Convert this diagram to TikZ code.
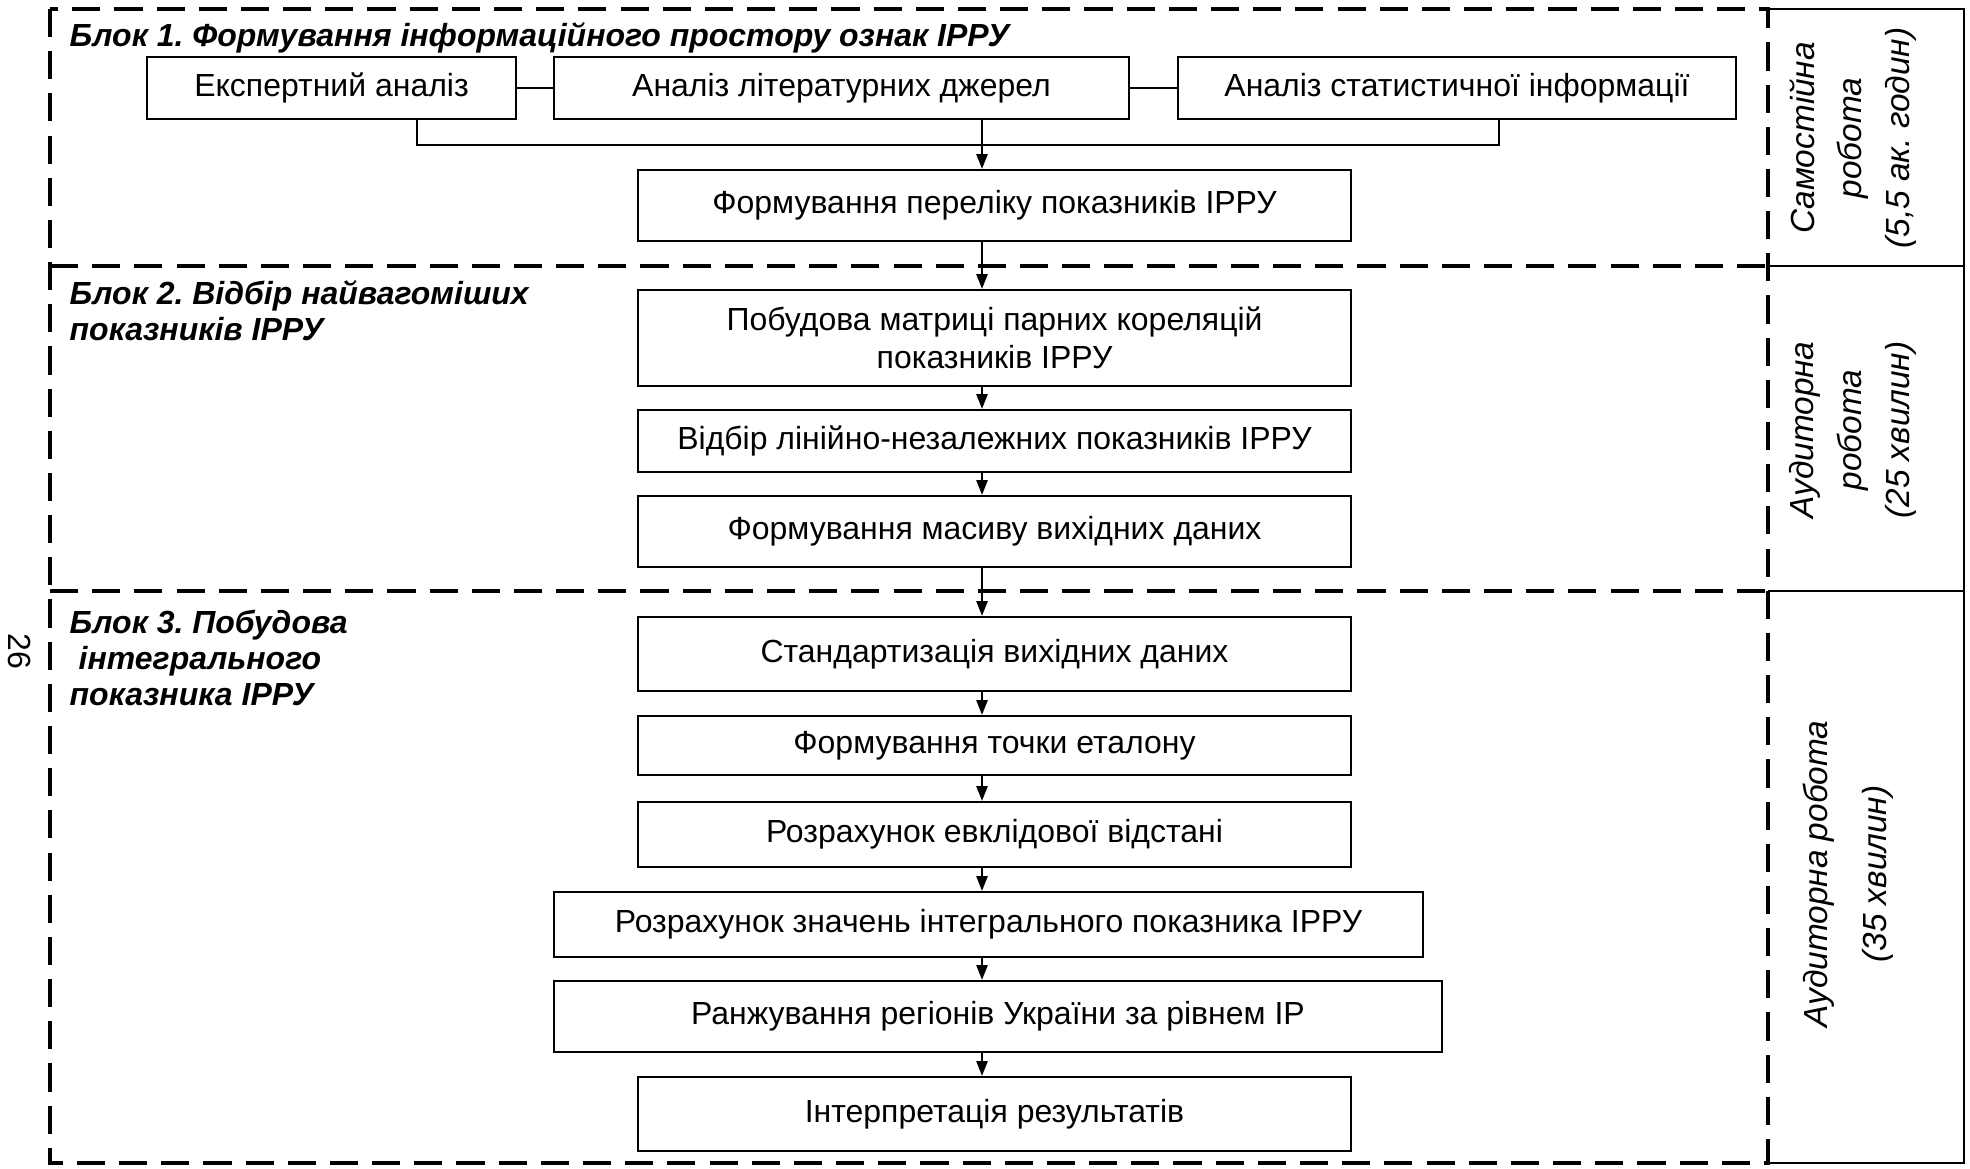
\documentclass[tikz,border=0pt]{standalone}
\usepackage{fontspec}
\setmainfont{Liberation Sans}
\usetikzlibrary{arrows.meta}
\frenchspacing

\newcommand\stagefont{\fontsize{9.1pt}{10.8pt}\selectfont}
\newcommand\blockfont{\fontsize{9.1pt}{10.2pt}\selectfont\bfseries\itshape}
\newcommand\notefont{\fontsize{9.5pt}{13.6pt}\selectfont\itshape}

\tikzset{
  stage/.style={draw, line width=0.65pt, inner sep=0pt, align=center, font=\stagefont},
  blocklabel/.style={anchor=base west, inner sep=0pt, align=left, font=\blockfont},
  note/.style={rotate=90, inner sep=0pt, align=center, font=\notefont},
  frame/.style={line width=1.1pt, dash pattern=on 8pt off 4pt},
  cell/.style={line width=0.5pt},
  link/.style={line width=0.45pt},
  arr/.style={line width=0.45pt, -{Triangle[length=4.2pt,width=3.2pt]}},
}

\begin{document}
\begin{tikzpicture}[x=1cm,y=1cm]
  \useasboundingbox (0,0) rectangle (19.70,-11.68);

  % Dashed frame of the three blocks
  \draw[frame] (0.50,-0.09) rectangle (17.68,-11.63);
  \draw[frame] (0.50,-2.66) -- (17.68,-2.66);
  \draw[frame] (0.50,-5.91) -- (17.68,-5.91);

  % Time column on the right
  \draw[cell] (17.68,-0.09) -- (19.64,-0.09) -- (19.64,-11.63) -- (17.68,-11.63);
  \draw[cell] (17.68,-2.66) -- (19.64,-2.66);
  \draw[cell] (17.68,-5.91) -- (19.64,-5.91);
  \node[note] (t1) at (18.53,-1.38) {Самостійна\\робота\\(5,5 ак. годин)};
  \node[note] (t2) at (18.53,-4.30) {Аудиторна\\робота\\(25 хвилин)};
  \node[note] (t3) at (18.48,-8.74) {Аудиторна робота\\[3.2pt](35 хвилин)};

  % Block titles (base = last line)
  \node[blocklabel] (b1) at (0.69,-0.46) {Блок 1. Формування інформаційного простору ознак ІРРУ};
  \node[blocklabel] (b2) at (0.69,-3.40) {Блок 2. Відбір найвагоміших\\показників ІРРУ};
  \node[blocklabel] (b3) at (0.69,-7.05) {Блок 3. Побудова\\\hspace{0.9mm}інтегрального\\показника ІРРУ};

  % Page number
  \node[rotate=-90, inner sep=0pt, font=\stagefont] (page) at (0.20,-6.51) {26};

  % Block 1 -- sources of information
  \node[stage, minimum width=3.69cm, minimum height=0.62cm] (exp) at (3.315,-0.88) {Експертний аналіз};
  \node[stage, minimum width=5.75cm, minimum height=0.62cm] (lit) at (8.415,-0.88) {Аналіз літературних джерел};
  \node[stage, minimum width=5.58cm, minimum height=0.62cm] (stat) at (14.57,-0.88) {Аналіз статистичної інформації};
  \node[stage, minimum width=7.13cm, minimum height=0.71cm] (per) at (9.945,-2.055) {Формування переліку показників ІРРУ};

  % Block 2 -- selection
  \node[stage, minimum width=7.13cm, minimum height=0.96cm] (pob) at (9.945,-3.38) {Побудова матриці парних кореляцій\\показників ІРРУ};
  \node[stage, minimum width=7.13cm, minimum height=0.62cm] (vid) at (9.945,-4.41) {Відбір лінійно-незалежних показників ІРРУ};
  \node[stage, minimum width=7.13cm, minimum height=0.71cm] (mas) at (9.945,-5.315) {Формування масиву вихідних даних};

  % Block 3 -- integral index
  \node[stage, minimum width=7.13cm, minimum height=0.74cm] (std) at (9.945,-6.54) {Стандартизація вихідних даних};
  \node[stage, minimum width=7.13cm, minimum height=0.59cm] (toch) at (9.945,-7.455) {Формування точки еталону};
  \node[stage, minimum width=7.13cm, minimum height=0.65cm] (evk) at (9.945,-8.345) {Розрахунок евклідової відстані};
  \node[stage, minimum width=8.69cm, minimum height=0.65cm] (znach) at (9.885,-9.245) {Розрахунок значень інтегрального показника ІРРУ};
  \node[stage, minimum width=8.88cm, minimum height=0.71cm] (ranzh) at (9.98,-10.165) {Ранжування регіонів України за рівнем ІР};
  \node[stage, minimum width=7.13cm, minimum height=0.74cm] (interp) at (9.945,-11.14) {Інтерпретація результатів};

  % Connectors
  \coordinate (axis) at (9.82,0);
  \draw[link] (exp.east) -- (lit.west);
  \draw[link] (lit.east) -- (stat.west);
  \draw[link] ([xshift=8.55mm]exp.south) -- ++(0,-0.25) -| ([xshift=4.2mm]stat.south);
  \draw[arr] (lit.south -| axis) -- (per.north -| axis);
  \foreach \a/\b in {per/pob, pob/vid, vid/mas, mas/std, std/toch, toch/evk, evk/znach, znach/ranzh, ranzh/interp}
    \draw[arr] (\a.south -| axis) -- (\b.north -| axis);
\end{tikzpicture}
\end{document}
